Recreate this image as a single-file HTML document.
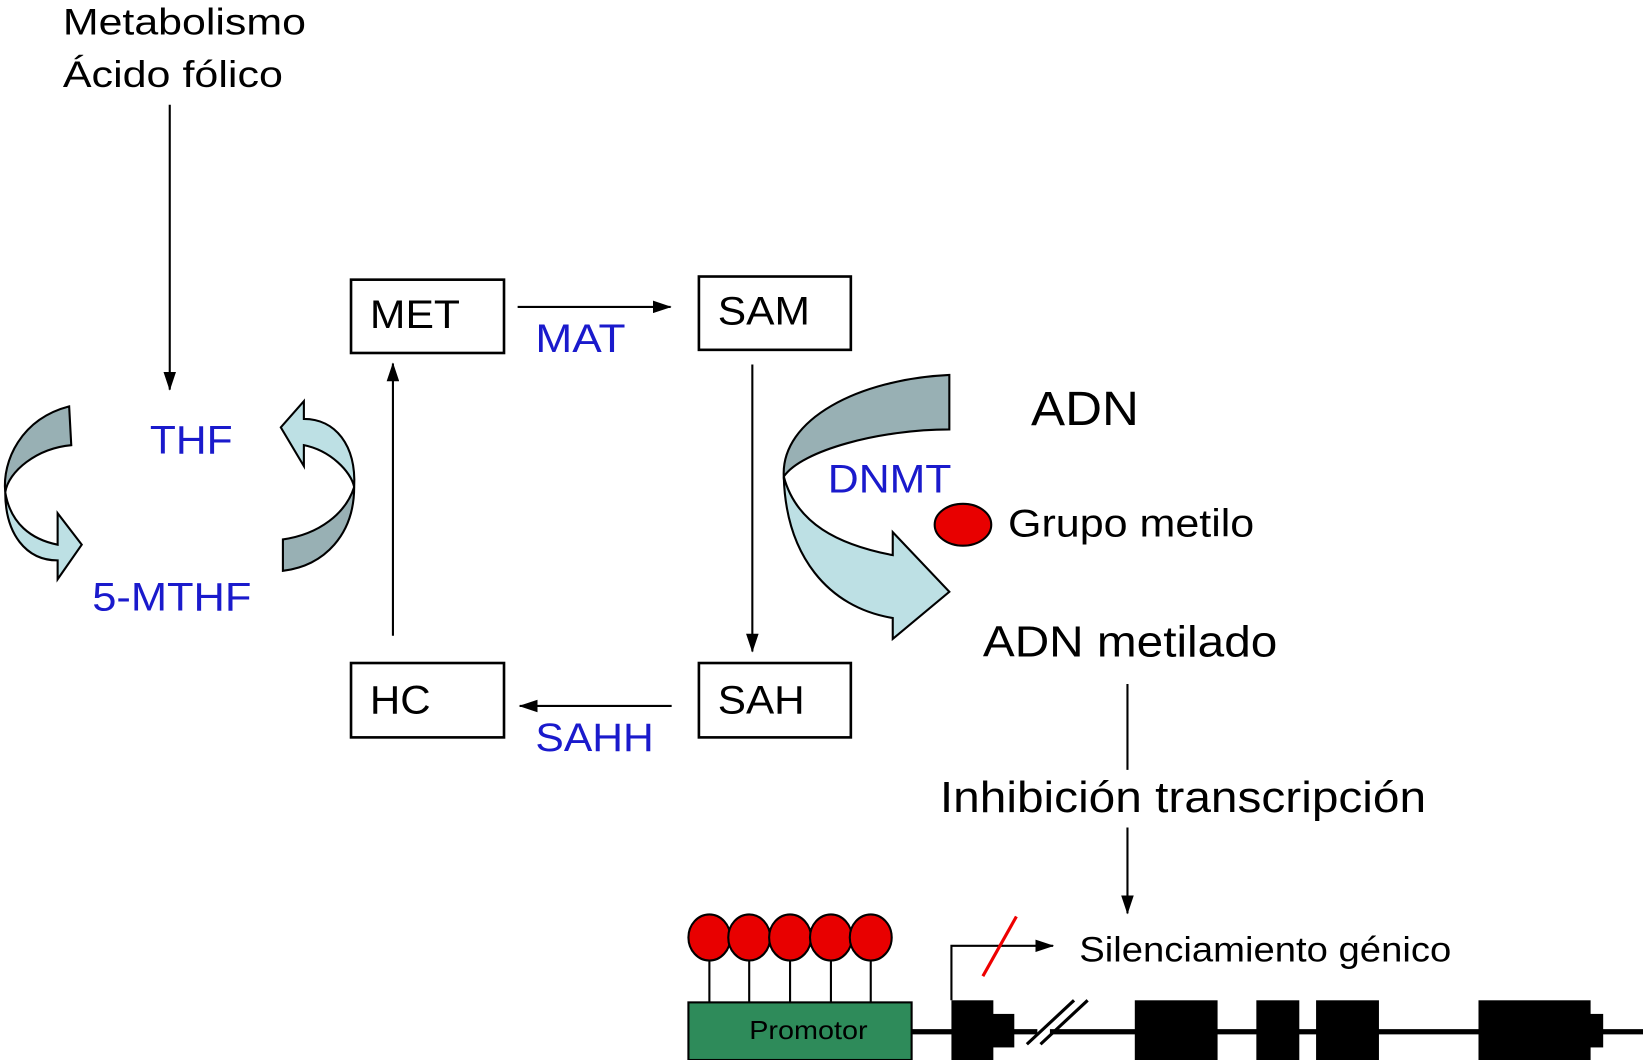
<!DOCTYPE html>
<html><head><meta charset="utf-8"><style>
html,body{margin:0;padding:0;background:#fff;}
svg{display:block;}
text{font-family:"Liberation Sans",sans-serif;}
</style></head><body>
<svg width="1643" height="1060" viewBox="0 0 1568 1012" preserveAspectRatio="none" xmlns="http://www.w3.org/2000/svg">
<defs>
<marker id="ah" markerWidth="18" markerHeight="12" refX="17" refY="6" orient="auto" markerUnits="userSpaceOnUse" viewBox="0 0 18 12"><path d="M0,0 L18,6 L0,12 Z" fill="#000"/></marker>
</defs>
<g font-size="35" fill="#000">
<text x="60" y="33" textLength="232" lengthAdjust="spacingAndGlyphs">Metabolismo</text>
<text x="60" y="83" textLength="210" lengthAdjust="spacingAndGlyphs">Ácido fólico</text>
</g>
<line x1="162" y1="100" x2="162" y2="372" stroke="#000" stroke-width="2" marker-end="url(#ah)"/>
<g fill="#1a1acc" font-size="38">
<text x="143" y="433" textLength="79" lengthAdjust="spacingAndGlyphs">THF</text>
<text x="88" y="583" textLength="152" lengthAdjust="spacingAndGlyphs">5-MTHF</text>
<text x="511" y="336" textLength="86" lengthAdjust="spacingAndGlyphs">MAT</text>
<text x="511" y="717" textLength="113" lengthAdjust="spacingAndGlyphs">SAHH</text>
<text x="790" y="470" textLength="118" lengthAdjust="spacingAndGlyphs">DNMT</text>
</g>
<g fill="#fff" stroke="#000" stroke-width="2.5">
<rect x="335" y="267" width="146" height="70"/>
<rect x="667" y="264" width="145" height="70"/>
<rect x="335" y="633" width="146" height="71"/>
<rect x="667" y="633" width="145" height="71"/>
</g>
<g font-size="38" fill="#000">
<text x="353" y="313" textLength="86" lengthAdjust="spacingAndGlyphs">MET</text>
<text x="685" y="310" textLength="88" lengthAdjust="spacingAndGlyphs">SAM</text>
<text x="353" y="681" textLength="58" lengthAdjust="spacingAndGlyphs">HC</text>
<text x="685" y="681" textLength="83" lengthAdjust="spacingAndGlyphs">SAH</text>
</g>
<g stroke="#000" stroke-width="2">
<line x1="494" y1="293" x2="640" y2="293" marker-end="url(#ah)"/>
<line x1="718" y1="348" x2="718" y2="622" marker-end="url(#ah)"/>
<line x1="641" y1="674" x2="496" y2="674" marker-end="url(#ah)"/>
<line x1="375" y1="607" x2="375" y2="347" marker-end="url(#ah)"/>
<line x1="1076" y1="653" x2="1076" y2="735"/>
<line x1="1076" y1="790" x2="1076" y2="872" marker-end="url(#ah)"/>
</g>
<g stroke="#000" stroke-width="2">
<path d="M66,388 L68,425 C35,428 8,450 5,470 C2,440 20,400 66,388 Z" fill="#98b0b4"/>
<path d="M5,470 C10,500 30,515 55,520 L55,490 L78,520 L55,553 L55,535 C25,535 5,510 5,470 Z" fill="#bde0e4"/>
<path d="M290,383 L268,408 L290,445 L290,425 C315,430 335,450 338,465 C340,425 320,400 290,400 Z" fill="#bde0e4"/>
<path d="M338,465 C338,510 310,540 270,545 L270,515 C305,510 330,490 338,465 Z" fill="#98b0b4"/>
<path d="M906,358 L906,410 C840,410 765,430 748,455 C745,400 820,362 906,358 Z" fill="#98b0b4"/>
<path d="M748,455 C760,500 800,520 852,530 L852,508 L906,565 L852,610 L852,590 C790,580 750,530 748,455 Z" fill="#bde0e4"/>
</g>
<text x="984" y="406" font-size="46" textLength="103" lengthAdjust="spacingAndGlyphs">ADN</text>
<ellipse cx="919" cy="501" rx="27" ry="20" fill="#e80000" stroke="#000" stroke-width="2"/>
<text x="962" y="512" font-size="37" textLength="235" lengthAdjust="spacingAndGlyphs">Grupo metilo</text>
<text x="938" y="627" font-size="42" textLength="281" lengthAdjust="spacingAndGlyphs">ADN metilado</text>
<text x="897" y="775" font-size="42" textLength="464" lengthAdjust="spacingAndGlyphs">Inhibición transcripción</text>
<text x="1030" y="918" font-size="34" textLength="355" lengthAdjust="spacingAndGlyphs">Silenciamiento génico</text>
<g stroke="#000" stroke-width="2">
<line x1="677" y1="895" x2="677" y2="957"/><line x1="715" y1="895" x2="715" y2="957"/><line x1="754" y1="895" x2="754" y2="957"/><line x1="793" y1="895" x2="793" y2="957"/><line x1="831" y1="895" x2="831" y2="957"/>
</g>
<g fill="#e80000" stroke="#000" stroke-width="2">
<ellipse cx="677" cy="895" rx="20" ry="22"/><ellipse cx="715" cy="895" rx="20" ry="22"/><ellipse cx="754" cy="895" rx="20" ry="22"/><ellipse cx="793" cy="895" rx="20" ry="22"/><ellipse cx="831" cy="895" rx="20" ry="22"/>
</g>
<line x1="870" y1="985" x2="1568" y2="985" stroke="#000" stroke-width="5"/>
<rect x="657" y="957" width="213" height="55" fill="#2e8b5a" stroke="#000" stroke-width="2"/>
<text x="715" y="992" font-size="25" textLength="113" lengthAdjust="spacingAndGlyphs">Promotor</text>
<g fill="#000">
<rect x="908" y="955" width="40" height="57"/><rect x="946" y="968" width="22" height="32"/>
<rect x="1083" y="955" width="79" height="57"/>
<rect x="1199" y="955" width="41" height="57"/>
<rect x="1256" y="955" width="60" height="57"/>
<rect x="1411" y="955" width="107" height="57"/><rect x="1516" y="968" width="14" height="32"/>
</g>
<line x1="990" y1="985" x2="1002" y2="985" stroke="#fff" stroke-width="6"/>
<g stroke="#000" stroke-width="3">
<line x1="980" y1="997" x2="1025" y2="955"/><line x1="993" y1="997" x2="1038" y2="955"/>
</g>
<polyline points="908,955 908,903 1005,903" fill="none" stroke="#000" stroke-width="2" marker-end="url(#ah)"/>
<line x1="938" y1="932" x2="970" y2="875" stroke="#e00" stroke-width="3"/>
</svg>
</body></html>
